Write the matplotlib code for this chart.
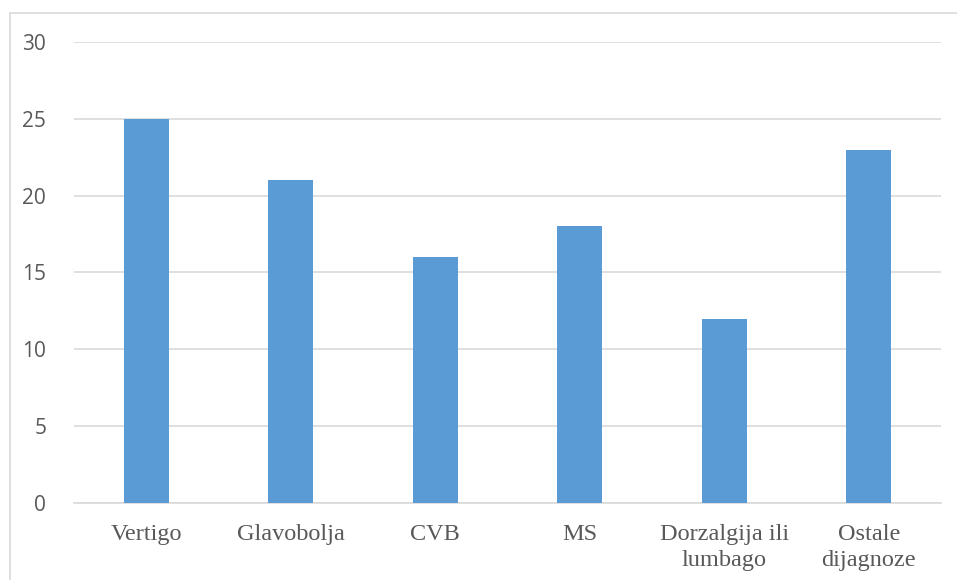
import matplotlib
matplotlib.use("Agg")
import matplotlib.pyplot as plt
from matplotlib.patches import Rectangle

categories = ["Vertigo", "Glavobolja", "CVB", "MS", "Dorzalgija ili\nlumbago", "Ostale\ndijagnoze"]
values = [25, 21, 16, 18, 12, 23]
yticks = [0, 5, 10, 15, 20, 25, 30]

fig = plt.figure(figsize=(9.57, 5.80), dpi=100)
ax = fig.add_axes([0.0773, 0.1328, 0.906, 0.7948])

# light frame around the chart area
fig.patches.append(Rectangle((10 / 957, -0.5), 2.0, 1.5 - 13 / 580, transform=fig.transFigure,
                             fill=False, edgecolor="#d9d9d9", linewidth=1.2))

x = range(len(categories))
ax.bar(x, values, width=0.31, color="#5b9bd5", zorder=3)

ax.set_xlim(-0.5, len(categories) - 0.5)
ax.set_ylim(0, 30)
ax.set_yticks(yticks)
ax.set_yticklabels([str(t) for t in yticks], family="Open Sans", fontsize=15, color="#595959")
ax.set_xticks(list(x))
ax.set_xticklabels(categories, family="Liberation Serif", fontsize=17.5, color="#595959",
                   linespacing=1.35)

ax.grid(axis="y", color="#d9d9d9", linewidth=1.2, zorder=0)
for s in ["top", "right", "left"]:
    ax.spines[s].set_visible(False)
ax.spines["bottom"].set_color("#d9d9d9")
ax.spines["bottom"].set_linewidth(1.2)
ax.tick_params(axis="both", length=0)
ax.tick_params(axis="y", pad=20)
ax.tick_params(axis="x", pad=15)

fig.savefig("out.png", dpi=100)
